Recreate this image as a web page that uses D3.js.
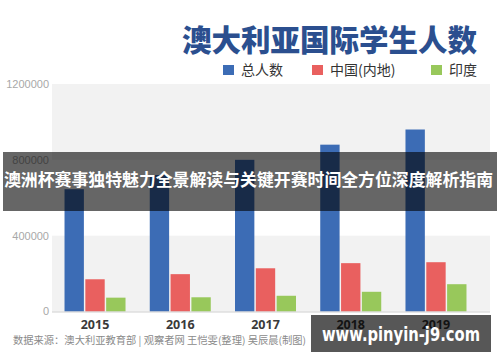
<!DOCTYPE html>
<html>
<head>
<meta charset="utf-8">
<script src="https://cdn.jsdelivr.net/npm/d3@7"></script>
<style>
  body { margin: 0; background: #fff; }
  svg { display: block; }
</style>
</head>
<body>
<div id="chart"></div>
<script>
const years = ["2015", "2016", "2017", "2018", "2019"];
const seriesNames = ["总人数", "中国(内地)", "印度"];
const totalValues = [645000, 720000, 800000, 880000, 960000];
const chinaValues = [170000, 197000, 228000, 255000, 260000];
const indiaValues = [73000, 75000, 83000, 104000, 144000];
const yTicks = [0, 400000, 800000, 1200000];
const colors = ["#3c6cb5", "#e9605f", "#98c85b"];

const data = years.map((y, i) => ({
  year: y,
  values: [totalValues[i], chinaValues[i], indiaValues[i]]
}));

const W = 500, H = 362;
const svg = d3.select("#chart").append("svg")
  .attr("width", W).attr("height", H);

svg.append("rect").attr("width", W).attr("height", H).attr("fill", "#fff");

const plotLeft = 52, plotRight = 490;

const y = d3.scaleLinear().domain([0, 1200000]).range([311.5, 84]);

const x0 = d3.scaleBand().domain(years).range([52.4, 478.6]).padding(0);
const groupW = 61;
const x1 = d3.scaleBand().domain(d3.range(3)).range([0, groupW]).paddingInner(0.07);
const groupOffset = (x0.bandwidth() - groupW) / 2;

// alternating background bands
const bands = [[800000, 1200000], [0, 400000]];
svg.selectAll(".band")
  .data(bands)
  .enter().append("rect")
  .attr("class", "band")
  .attr("x", plotLeft)
  .attr("width", plotRight - plotLeft)
  .attr("y", d => y(d[1]))
  .attr("height", d => y(d[0]) - y(d[1]))
  .attr("fill", "#f2f2f2");

// y tick labels
svg.selectAll(".ytick")
  .data(yTicks)
  .enter().append("text")
  .attr("class", "ytick")
  .attr("x", 49)
  .attr("y", d => y(d))
  .attr("dy", "0.35em")
  .attr("text-anchor", "end")
  .attr("font-family", "'Liberation Sans', Arial, sans-serif")
  .attr("font-size", 11)
  .attr("fill", "#a8a8a8")
  .text(d => d);

// bars
const groups = svg.selectAll(".grp")
  .data(data)
  .enter().append("g")
  .attr("class", "grp")
  .attr("transform", d => `translate(${x0(d.year) + groupOffset},0)`);

groups.selectAll("rect")
  .data(d => d.values)
  .enter().append("rect")
  .attr("x", (d, i) => x1(i))
  .attr("width", x1.bandwidth())
  .attr("y", d => y(d))
  .attr("height", d => y(0) - y(d))
  .attr("fill", (d, i) => colors[i]);

// baseline
svg.append("line")
  .attr("x1", plotLeft).attr("x2", plotRight)
  .attr("y1", y(0) + 0.5).attr("y2", y(0) + 0.5)
  .attr("stroke", "#cfcfcf").attr("stroke-width", 1);

// x labels
svg.selectAll(".xlab")
  .data(years)
  .enter().append("text")
  .attr("class", "xlab")
  .attr("x", d => x0(d) + x0.bandwidth() / 2)
  .attr("y", 324.5)
  .attr("dy", "0.35em")
  .attr("text-anchor", "middle")
  .attr("font-family", "'Noto Sans', 'DejaVu Sans', sans-serif")
  .attr("font-weight", "bold")
  .attr("font-size", 12.5)
  .attr("fill", "#3a3a3a")
  .text(d => d);

// title
svg.append("text")
  .attr("x", 477).attr("y", 40)
  .attr("dy", "0.35em")
  .attr("text-anchor", "end")
  .attr("font-family", "'Noto Sans CJK SC', sans-serif")
  .attr("font-weight", 900)
  .attr("font-size", 30)
  .attr("textLength", 295)
  .attr("lengthAdjust", "spacingAndGlyphs")
  .attr("fill", "#2b4f8f")
  .text("澳大利亚国际学生人数");

// legend
const legendX = [223, 312, 431];
const legend = svg.selectAll(".leg")
  .data(seriesNames)
  .enter().append("g")
  .attr("class", "leg")
  .attr("transform", (d, i) => `translate(${legendX[i]},65)`);
legend.append("rect")
  .attr("width", 11).attr("height", 10)
  .attr("fill", (d, i) => colors[i]);
legend.append("text")
  .attr("x", 18).attr("y", 5)
  .attr("dy", "0.35em")
  .attr("font-family", "'Noto Sans CJK SC', sans-serif")
  .attr("font-size", 14)
  .attr("fill", "#333")
  .text(d => d);

// source
svg.append("text")
  .attr("x", 13).attr("y", 340)
  .attr("dy", "0.35em")
  .attr("font-family", "'Noto Sans CJK SC', sans-serif")
  .attr("font-size", 10)
  .attr("textLength", 293)
  .attr("lengthAdjust", "spacingAndGlyphs")
  .attr("fill", "#8a8a8a")
  .text("数据来源：澳大利亚教育部  |  观察者网 王恺雯(整理) 吴辰晨(制图)");

// overlay banner
svg.append("rect")
  .attr("x", 3).attr("y", 152)
  .attr("width", 494).attr("height", 59)
  .attr("fill", "rgba(0,0,0,0.6)");
svg.append("text")
  .attr("x", 4).attr("y", 180)
  .attr("dy", "0.35em")
  .attr("font-family", "'Noto Sans CJK SC', sans-serif")
  .attr("font-weight", "bold")
  .attr("font-size", 17)
  .attr("textLength", 489)
  .attr("lengthAdjust", "spacingAndGlyphs")
  .attr("fill", "#fff")
  .text("澳洲杯赛事独特魅力全景解读与关键开赛时间全方位深度解析指南");

// watermark box
svg.append("rect")
  .attr("x", 311).attr("y", 315)
  .attr("width", 180).attr("height", 37)
  .attr("fill", "rgba(0,0,0,0.66)");
svg.append("text")
  .attr("x", 401).attr("y", 334)
  .attr("dy", "0.35em")
  .attr("text-anchor", "middle")
  .attr("font-family", "'DejaVu Sans', sans-serif")
  .attr("font-weight", "bold")
  .attr("font-size", 19)
  .attr("textLength", 158)
  .attr("lengthAdjust", "spacingAndGlyphs")
  .attr("fill", "#fff")
  .text("www.pinyin-j9.com");
</script>
</body>
</html>
